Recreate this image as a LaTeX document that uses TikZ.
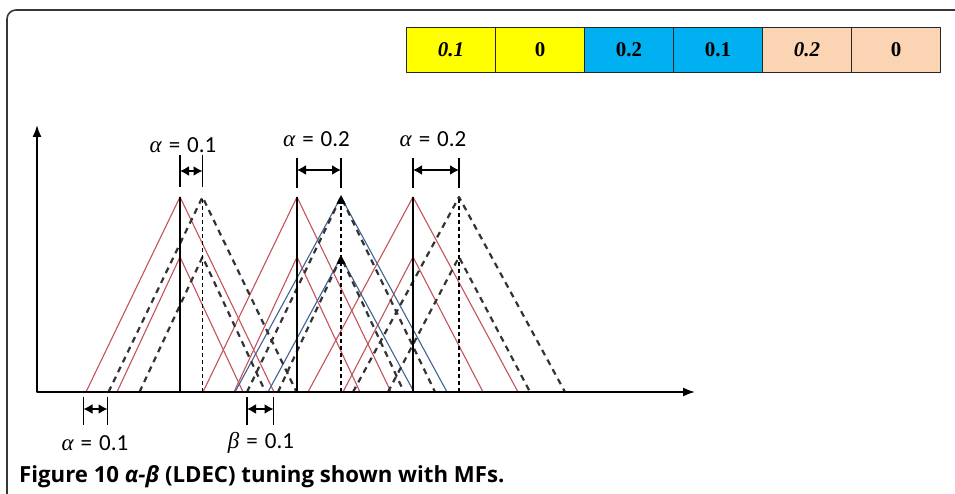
\documentclass[tikz,border=0pt]{standalone}
\usepackage{fontspec}
\setmainfont{Carlito}
\newfontfamily\capfont{Open Sans}
\newfontfamily\tabfont{Liberation Serif}
\newfontfamily\grkfont{Liberation Serif}
\usetikzlibrary{arrows.meta}

\definecolor{mfred}{RGB}{196,84,90}
\definecolor{mfblue}{RGB}{64,100,150}
\definecolor{celly}{RGB}{255,255,0}
\definecolor{cellb}{RGB}{0,176,240}
\definecolor{cellp}{RGB}{251,212,180}
\definecolor{framegray}{RGB}{55,55,55}

% triangular membership function: centre x, half base, peak y, style
\newcommand\mftri[4]{\draw[#4] (#1-#2,392) -- (#1,#3) -- (#1+#2,392);}
\newcommand\alab{{\grkfont\itshape α}\hspace{7pt}=\hspace{7pt}}
\newcommand\blab{{\grkfont\itshape β}\hspace{7pt}=\hspace{7pt}}

\begin{document}
\begin{tikzpicture}[x=1pt,y=-1pt,line join=round,
  redmf/.style={draw=mfred,line width=1.1pt},
  bluemf/.style={draw=mfblue,line width=1.1pt},
  dashmf/.style={draw=black!80,line width=2.2pt,dash pattern=on 6pt off 5pt},
  peakline/.style={draw=black,line width=1.5pt},
  dashpeak/.style={draw=black,line width=1.4pt,dash pattern=on 4pt off 3pt},
  tickmark/.style={draw=black,line width=1.4pt},
  spanarrow/.style={{Latex[length=9pt,width=10pt]}-{Latex[length=9pt,width=10pt]},line width=1.5pt},
  lbl/.style={font=\fontsize{23}{26}\selectfont,inner sep=0pt},
  cell/.style={draw=black!85,line width=1pt,minimum width=89pt,minimum height=45pt,
    inner sep=0pt,anchor=north west,font=\tabfont\bfseries\fontsize{21}{24}\selectfont},
]
\useasboundingbox (0,0) rectangle (955,494);
\fill[white] (0,0) rectangle (955,494);

% frame
\draw[framegray,line width=1.6pt,rounded corners=9pt] (7,494) -- (7,10) -- (955,10);

% parameter table
\node[cell,fill=celly] (c1) at (406,27) {\itshape 0.1};
\node[cell,fill=celly] (c2) at (495,27) {0};
\node[cell,fill=cellb] (c3) at (584,27) {0.2};
\node[cell,fill=cellb] (c4) at (673,27) {0.1};
\node[cell,fill=cellp] (c5) at (762,27) {\itshape 0.2};
\node[cell,fill=cellp] (c6) at (851,27) {0};

% membership functions
\mftri{180}{94}{197}{redmf}
\mftri{180}{63}{257}{redmf}
\mftri{297}{94}{197}{redmf}
\mftri{297}{63}{257}{redmf}
\mftri{413}{105}{197}{redmf}
\mftri{413}{70}{257}{redmf}
\mftri{341}{106}{197}{bluemf}
\mftri{341}{73}{257}{bluemf}
\mftri{202.5}{94}{197}{dashmf}
\mftri{202.5}{63}{257}{dashmf}
\mftri{341}{94}{197}{dashmf}
\mftri{341}{63}{257}{dashmf}
\mftri{459}{106}{197}{dashmf}
\mftri{459}{71}{257}{dashmf}

% peak lines
\coordinate (s1) at (180,197);   \coordinate (s1b) at (180,392);
\coordinate (s2) at (297,197);   \coordinate (s2b) at (297,392);
\coordinate (s3) at (413,197);   \coordinate (s3b) at (413,392);
\coordinate (d1) at (202.5,197); \coordinate (d1b) at (202.5,392);
\coordinate (d2) at (341,197);   \coordinate (d2b) at (341,392);
\coordinate (d3) at (459,197);   \coordinate (d3b) at (459,392);
\draw[peakline] (s1b) -- (s1);
\draw[peakline] (s2b) -- (s2);
\draw[peakline] (s3b) -- (s3);
\draw[dashpeak] (d1b) -- (d1);
\draw[dashpeak] (d2b) -- (d2);
\draw[dashpeak] (d3b) -- (d3);
\fill (341,195) -- (336.5,204) -- (345.5,204) -- cycle;
\fill (341,255) -- (336.5,264) -- (345.5,264) -- cycle;

% axes
\coordinate (O) at (37,392);
\coordinate (xend) at (695,392);
\coordinate (yend) at (37,125);
\draw[line width=1.8pt,{Latex[length=12pt,width=9pt]}-{Latex[length=12pt,width=9pt]}]
  (yend) -- (O) -- (xend);

% shift markers above the peaks
\coordinate (t1a) at (180,155);   \coordinate (t1b) at (180,187);
\coordinate (t2a) at (202.5,155); \coordinate (t2b) at (202.5,187);
\draw[tickmark] (t1a) -- (t1b);
\draw[tickmark] (t2a) -- (t2b);
\draw[spanarrow] (180,171) -- (202.5,171);
\node[lbl] (la1) at (183,145) {\alab 0.1};

\coordinate (t3a) at (297,158); \coordinate (t3b) at (297,188);
\coordinate (t4a) at (341,158); \coordinate (t4b) at (341,188);
\draw[tickmark] (t3a) -- (t3b);
\draw[tickmark] (t4a) -- (t4b);
\draw[spanarrow] (297,170) -- (341,170);
\node[lbl] (la2) at (316.5,139) {\alab 0.2};

\coordinate (t5a) at (413,158); \coordinate (t5b) at (413,188);
\coordinate (t6a) at (459,158); \coordinate (t6b) at (459,188);
\draw[tickmark] (t5a) -- (t5b);
\draw[tickmark] (t6a) -- (t6b);
\draw[spanarrow] (413,170) -- (459,170);
\node[lbl] (la3) at (433,139) {\alab 0.2};

% markers below the axis
\coordinate (b1a) at (83.5,397);  \coordinate (b1b) at (83.5,425);
\coordinate (b2a) at (107.5,397); \coordinate (b2b) at (107.5,425);
\draw[tickmark] (b1a) -- (b1b);
\draw[tickmark] (b2a) -- (b2b);
\draw[spanarrow] (83.5,409) -- (107.5,409);
\node[lbl] (lb1) at (95,443) {\alab 0.1};

\coordinate (b3a) at (247,397);   \coordinate (b3b) at (247,425);
\coordinate (b4a) at (273.5,397); \coordinate (b4b) at (273.5,425);
\draw[tickmark] (b3a) -- (b3b);
\draw[tickmark] (b4a) -- (b4b);
\draw[spanarrow] (247,409) -- (273.5,409);
\node[lbl] (lb2) at (261,443) {\blab 0.1};

% caption
\node[anchor=base west,inner sep=0pt,font=\capfont\bfseries\fontsize{22.2}{26}\selectfont]
  (cap) at (19,482) {Figure 10 {\itshape α-β} (LDEC) tuning shown with MFs.};
\end{tikzpicture}
\end{document}
